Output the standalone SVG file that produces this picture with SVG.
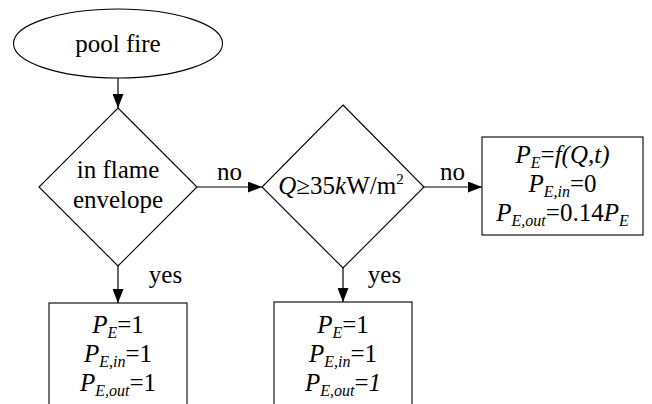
<svg xmlns="http://www.w3.org/2000/svg" width="652" height="404" viewBox="0 0 652 404">
<style>
  .shape { fill: #fff; stroke: #000; stroke-width: 1.1; }
  .conn { stroke: #000; stroke-width: 1.2; fill: none; }
  text { font-family: "Liberation Serif", "Times New Roman", Times, serif; font-size: 25px; fill: #000; }
  .c { text-anchor: middle; }
  .i { font-style: italic; }
  .sub { font-size: 16px; font-style: italic; }
</style>
<defs>
  <marker id="arr" markerUnits="userSpaceOnUse" markerWidth="14" markerHeight="11" refX="14" refY="5.5" orient="auto">
    <path d="M0,0 L14,5.5 L0,11 z" fill="#000"/>
  </marker>
</defs>
<rect width="652" height="404" fill="#fff"/>

<g id="connectors">
  <line class="conn" x1="118" y1="78" x2="118" y2="108" marker-end="url(#arr)"/>
  <line class="conn" x1="197" y1="187" x2="262" y2="187" marker-end="url(#arr)"/>
  <line class="conn" x1="424" y1="187" x2="482" y2="187" marker-end="url(#arr)"/>
  <line class="conn" x1="118" y1="266" x2="118" y2="303" marker-end="url(#arr)"/>
  <line class="conn" x1="343" y1="268" x2="343" y2="302" marker-end="url(#arr)"/>
  <text class="c" x="229.5" y="180">no</text>
  <text class="c" x="452.5" y="180">no</text>
  <text class="c" x="165.5" y="283">yes</text>
  <text class="c" x="384.5" y="283">yes</text>
</g>

<g id="start">
  <ellipse class="shape" cx="118" cy="43.5" rx="104.5" ry="34.5"/>
  <text class="c" x="118" y="52">pool fire</text>
</g>

<g id="flame">
  <polygon class="shape" points="118,108 197,187 118,266 39,187"/>
  <text class="c" x="118" y="178">in flame</text>
  <text class="c" x="118" y="208">envelope</text>
</g>

<g id="flux">
  <polygon class="shape" points="343,105 424,187 343,268 262,187"/>
  <text class="c" x="341" y="194"><tspan class="i">Q</tspan>≥35<tspan class="i">k</tspan>W/m<tspan font-size="15" dy="-10">2</tspan></text>
</g>

<g id="result-no">
  <rect class="shape" x="482" y="137" width="161" height="98"/>
  <text class="c" x="562.5" y="163"><tspan class="i">P</tspan><tspan class="sub" dy="5">E</tspan><tspan dy="-5">=</tspan><tspan class="i">f(Q,t)</tspan></text>
  <text class="c" x="562.5" y="192"><tspan class="i">P</tspan><tspan class="sub" dy="5">E,in</tspan><tspan dy="-5">=0</tspan></text>
  <text class="c" x="562.5" y="221"><tspan class="i">P</tspan><tspan class="sub" dy="5">E,out</tspan><tspan dy="-5">=0.14</tspan><tspan class="i">P</tspan><tspan class="sub" dy="5">E</tspan></text>
</g>

<g id="result-flame">
  <rect class="shape" x="49" y="303" width="138" height="120"/>
  <text class="c" x="118" y="333"><tspan class="i">P</tspan><tspan class="sub" dy="5">E</tspan><tspan dy="-5">=1</tspan></text>
  <text class="c" x="118" y="362"><tspan class="i">P</tspan><tspan class="sub" dy="5">E,in</tspan><tspan dy="-5">=1</tspan></text>
  <text class="c" x="118" y="391"><tspan class="i">P</tspan><tspan class="sub" dy="5">E,out</tspan><tspan dy="-5">=1</tspan></text>
</g>

<g id="result-yes">
  <rect class="shape" x="274" y="302" width="138" height="120"/>
  <text class="c" x="343" y="333"><tspan class="i">P</tspan><tspan class="sub" dy="5">E</tspan><tspan dy="-5">=1</tspan></text>
  <text class="c" x="343" y="362"><tspan class="i">P</tspan><tspan class="sub" dy="5">E,in</tspan><tspan dy="-5">=1</tspan></text>
  <text class="c" x="343" y="391"><tspan class="i">P</tspan><tspan class="sub" dy="5">E,out</tspan><tspan dy="-5">=</tspan><tspan class="i">1</tspan></text>
</g>
</svg>
